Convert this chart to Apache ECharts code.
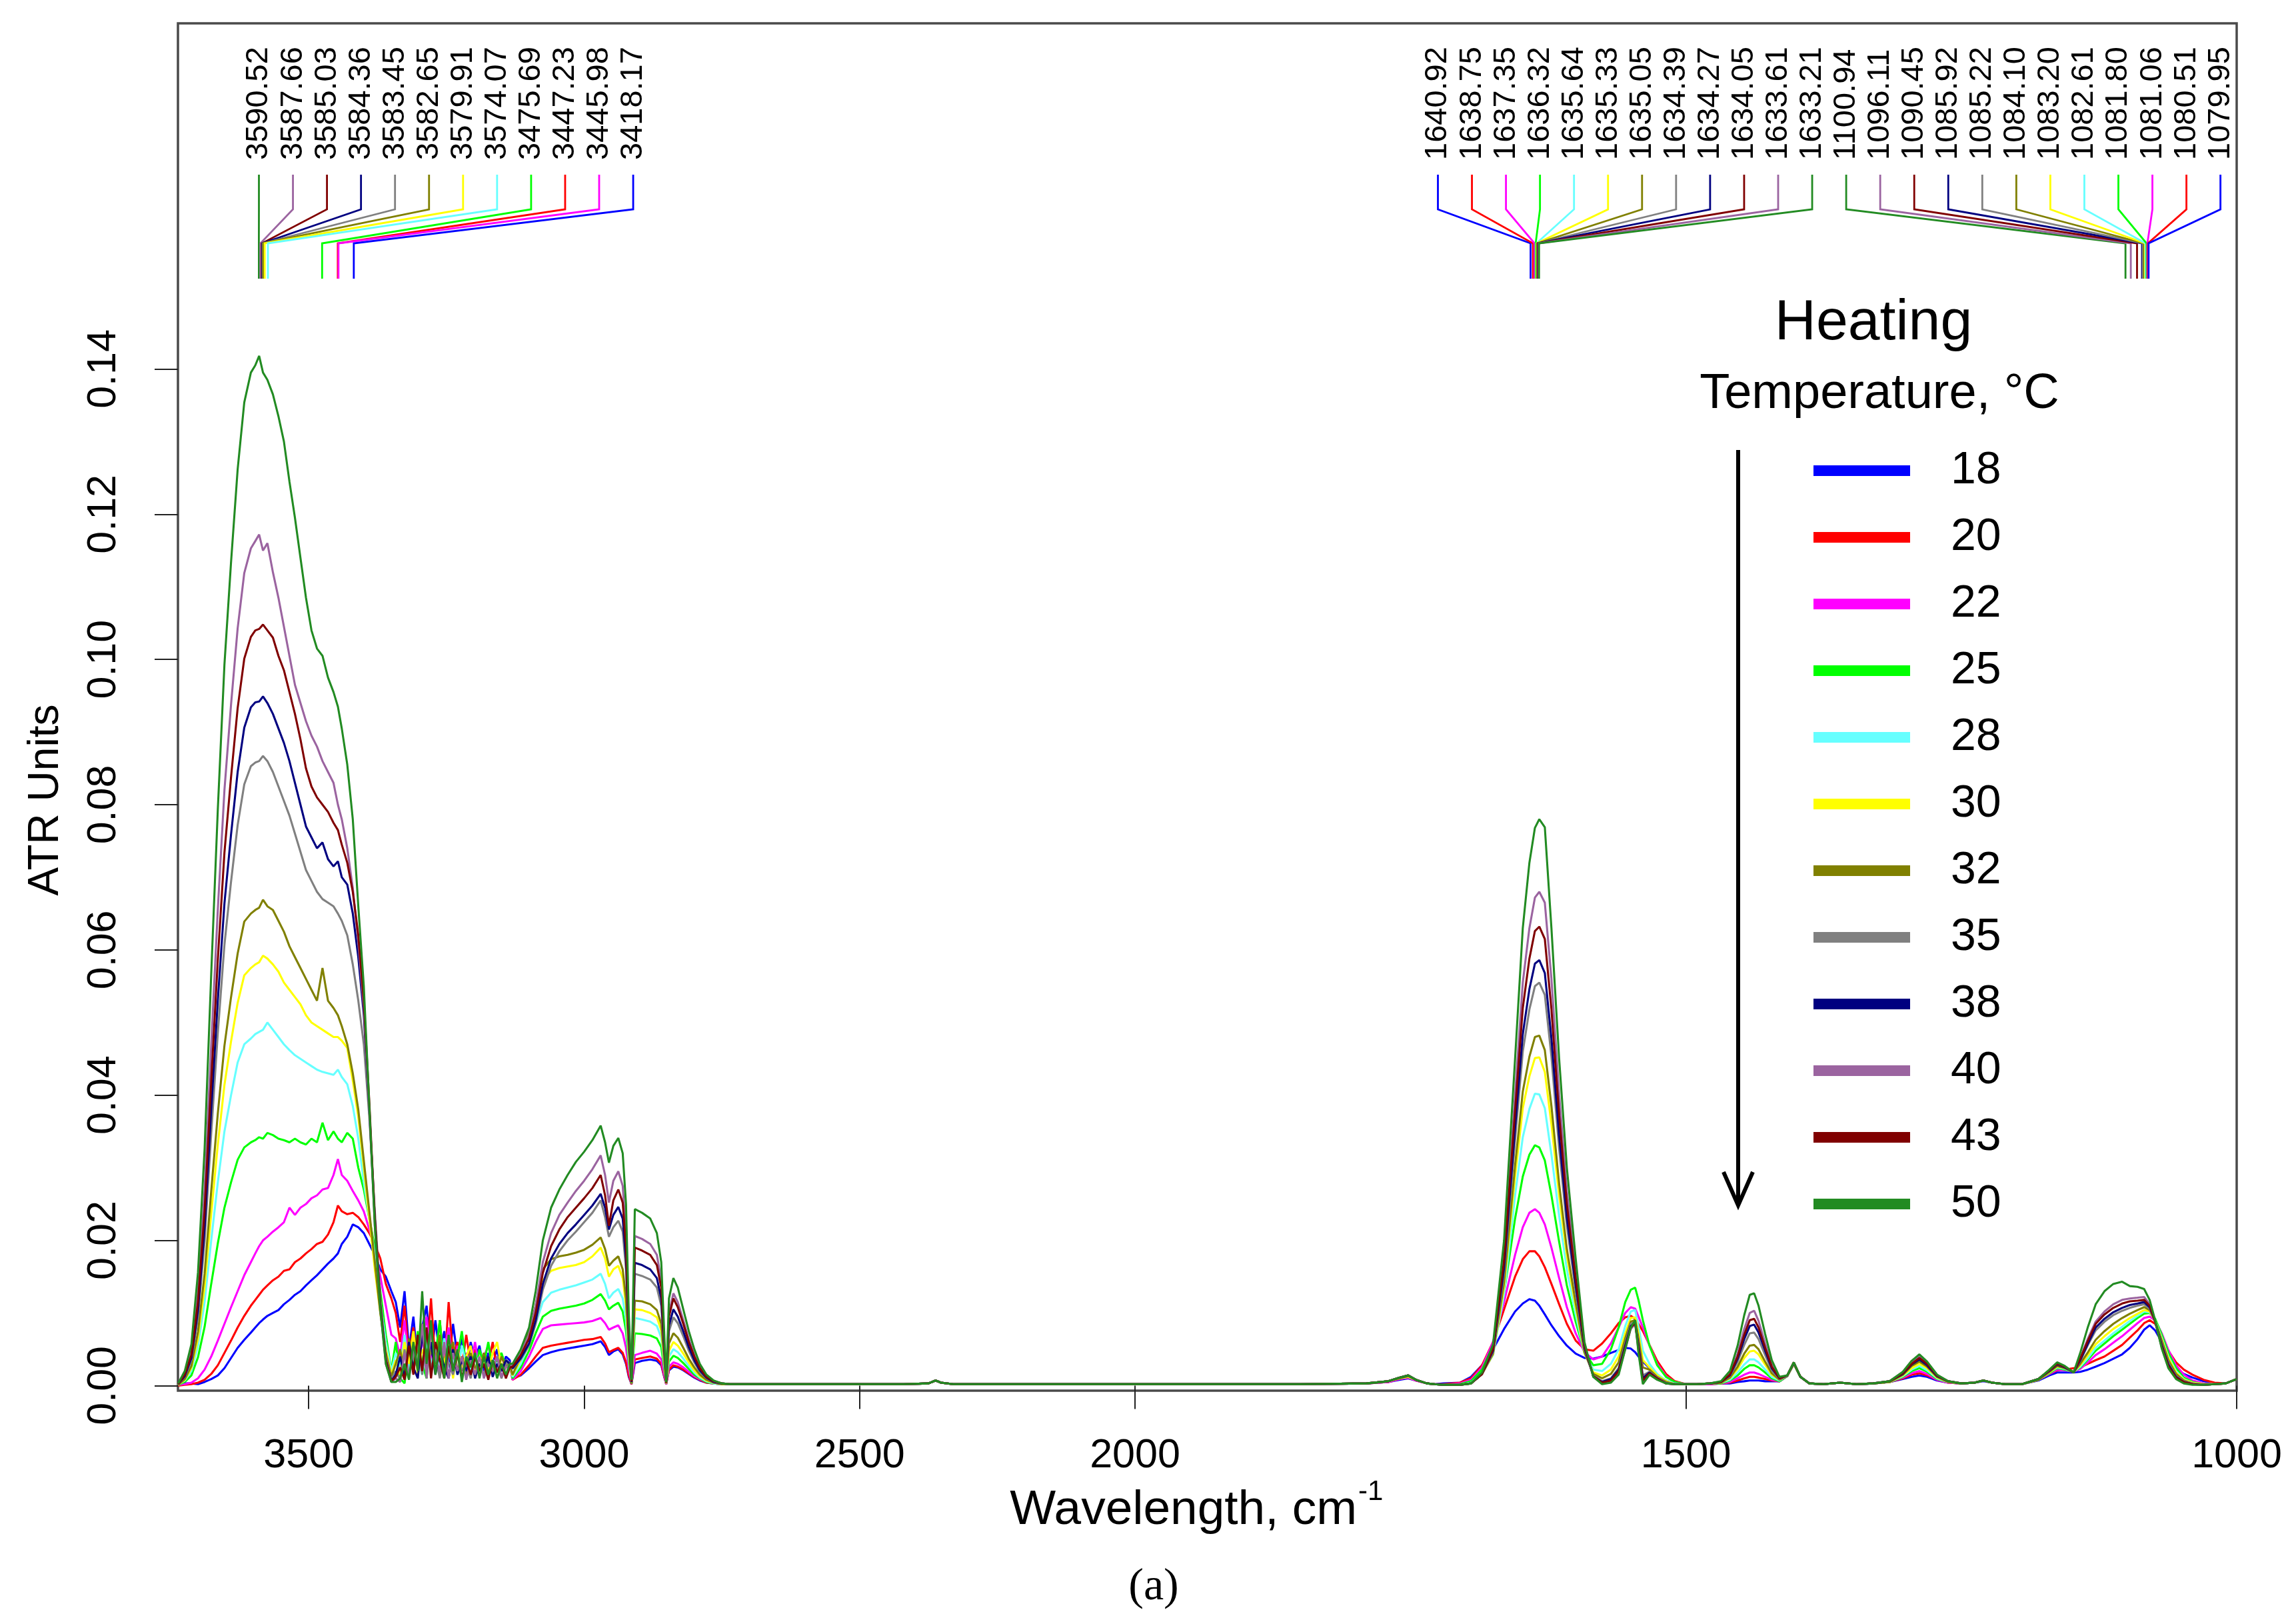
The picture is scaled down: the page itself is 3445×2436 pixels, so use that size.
<!DOCTYPE html>
<html>
<head>
<meta charset="utf-8">
<script src="https://cdn.jsdelivr.net/npm/echarts@6/dist/echarts.min.js"></script>
<style>
html,body{margin:0;padding:0;background:#fff;}
#chart{width:3445px;height:2436px;}
</style>
</head>
<body>
<div id="chart"></div>
<script>
// ---------------- DATA ----------------
const temperatures = [18, 20, 22, 25, 28, 30, 32, 35, 38, 40, 43, 50];
const seriesColors = ['#0000FF', '#FF0000', '#FF00FF', '#00FF00', '#66FFFF', '#FFFF00', '#808000', '#808080', '#000080', '#9B64A0', '#800000', '#228B22'];

const wavenumber = [
  3737, 3725, 3713, 3701, 3689, 3677, 3665, 3653, 3641, 3629, 3617, 3605, 3597, 3590, 3583, 3575, 3565, 3555, 3545, 3535,
  3525, 3515, 3505, 3495, 3485, 3475, 3465, 3455, 3447, 3440, 3430, 3420, 3410, 3400, 3390, 3380, 3370, 3360, 3350,
  3342, 3334, 3326, 3318, 3310, 3302, 3294, 3286, 3278, 3270, 3262, 3254, 3246, 3238, 3230, 3222, 3214, 3206, 3198, 3190,
  3182, 3174, 3166, 3158, 3150, 3142, 3135,
  3130, 3115, 3100, 3088, 3075, 3060, 3045, 3030, 3015, 3000, 2985, 2970, 2962, 2955, 2947, 2938, 2930, 2924, 2919, 2914,
  2908, 2895, 2880, 2868, 2860, 2855, 2851, 2846, 2838, 2830, 2820, 2810, 2800, 2790, 2778, 2765, 2750, 2735, 2720,
  2700, 2600, 2500, 2420, 2375, 2362, 2352, 2330, 2250, 2150, 2050, 1950, 1850, 1790, 1770, 1760, 1752, 1745, 1735, 1728,
  1720, 1705, 1695, 1685, 1675, 1665, 1655, 1648, 1642, 1637, 1633, 1628, 1622, 1615, 1608, 1600, 1592, 1584, 1576, 1568,
  1561, 1555, 1550, 1546, 1543, 1539, 1533, 1526, 1518, 1510, 1500,
  1490, 1478, 1468, 1460, 1453, 1447, 1442, 1438, 1434, 1428, 1422, 1415, 1408, 1402, 1396, 1388, 1375, 1360, 1345, 1330,
  1315, 1303, 1295, 1288, 1281, 1272, 1262, 1250, 1238, 1230, 1222, 1210, 1195, 1180, 1170, 1163, 1156, 1148, 1142, 1135,
  1128, 1120, 1112, 1104, 1097, 1090, 1084, 1079, 1074, 1068, 1062, 1055, 1048, 1040, 1030, 1020, 1010, 1000
];

const atr18 = [
  0.0005,0.0003,0.0003,0.0002,0.0005,0.0009,0.0014,0.0024,0.0038,0.0052,0.0063,0.0073,0.0080,0.0086,0.0091,0.0096,0.0100,0.0104,0.0112,0.0118,
  0.0125,0.0130,0.0138,0.0145,0.0152,0.0160,0.0168,0.0175,0.0182,0.0195,0.0205,0.0222,0.0218,0.0210,0.0195,0.0180,0.0160,0.0150,0.0130,
  0.0115,0.0080,0.0130,0.0050,0.0095,0.0030,0.0080,0.0110,0.0035,0.0090,0.0040,0.0075,0.0025,0.0085,0.0040,0.0065,0.0020,0.0060,0.0035,0.0055,
  0.0020,0.0045,0.0030,0.0050,0.0020,0.0040,0.0035,
  0.0010,0.0014,0.0024,0.0033,0.0042,0.0046,0.0049,0.0051,0.0053,0.0055,0.0057,0.0061,0.0053,0.0042,0.0047,0.0050,0.0043,0.0030,0.0012,0.0002,
  0.0031,0.0034,0.0036,0.0034,0.0028,0.0013,0.0002,0.0021,0.0026,0.0025,0.0021,0.0016,0.0011,0.0007,0.0004,0.0003,0.0002,0.0002,0.0002,
  0.0002,0.0002,0.0002,0.0002,0.0003,0.0007,0.0004,0.0002,0.0002,0.0002,0.0002,0.0002,0.0002,0.0003,0.0005,0.0008,0.0010,0.0007,0.0003,0.0002,
  0.0003,0.0004,0.0012,0.0028,0.0050,0.0078,0.0102,0.0113,0.0119,0.0117,0.0110,0.0098,0.0083,0.0068,0.0055,0.0044,0.0038,0.0037,0.0040,0.0045,
  0.0049,0.0052,0.0051,0.0046,0.0040,0.0033,0.0024,0.0014,0.0007,0.0003,0.0002,
  0.0002,0.0002,0.0003,0.0003,0.0005,0.0006,0.0007,0.0007,0.0007,0.0006,0.0006,0.0006,0.0013,0.0030,0.0012,0.0003,0.0002,0.0004,0.0002,0.0003,
  0.0005,0.0009,0.0012,0.0014,0.0012,0.0007,0.0004,0.0003,0.0004,0.0006,0.0004,0.0002,0.0002,0.0007,0.0014,0.0018,0.0018,0.0018,0.0019,0.0022,
  0.0026,0.0031,0.0037,0.0043,0.0052,0.0064,0.0077,0.0083,0.0076,0.0060,0.0040,0.0024,0.0016,0.0011,0.0006,0.0003,0.0003,0.0009
];

const atr20 = [
  0.0000,0.0001,0.0002,0.0004,0.0008,0.0016,0.0028,0.0045,0.0062,0.0080,0.0096,0.0110,0.0118,0.0125,0.0132,0.0138,0.0145,0.0150,0.0158,0.0160,
  0.0170,0.0175,0.0182,0.0188,0.0195,0.0198,0.0208,0.0225,0.0248,0.0240,0.0236,0.0238,0.0232,0.0222,0.0210,0.0195,0.0175,0.0140,0.0120,
  0.0100,0.0060,0.0110,0.0040,0.0080,0.0025,0.0070,0.0035,0.0120,0.0030,0.0090,0.0020,0.0115,0.0040,0.0060,0.0025,0.0070,0.0030,0.0050,0.0020,
  0.0045,0.0030,0.0060,0.0020,0.0040,0.0025,0.0030,
  0.0008,0.0015,0.0028,0.0040,0.0052,0.0055,0.0057,0.0059,0.0061,0.0063,0.0064,0.0067,0.0058,0.0046,0.0049,0.0052,0.0045,0.0032,0.0014,0.0002,
  0.0036,0.0038,0.0040,0.0037,0.0030,0.0014,0.0002,0.0022,0.0028,0.0026,0.0022,0.0017,0.0012,0.0008,0.0004,0.0003,0.0002,0.0002,0.0002,
  0.0002,0.0002,0.0002,0.0002,0.0003,0.0007,0.0004,0.0002,0.0002,0.0002,0.0002,0.0002,0.0002,0.0003,0.0005,0.0009,0.0011,0.0007,0.0003,0.0002,
  0.0002,0.0004,0.0010,0.0028,0.0060,0.0105,0.0150,0.0174,0.0185,0.0185,0.0178,0.0163,0.0140,0.0112,0.0085,0.0062,0.0050,0.0048,0.0058,0.0072,
  0.0086,0.0094,0.0096,0.0092,0.0085,0.0075,0.0056,0.0034,0.0016,0.0006,0.0002,
  0.0002,0.0002,0.0003,0.0004,0.0007,0.0010,0.0012,0.0012,0.0011,0.0009,0.0007,0.0006,0.0013,0.0030,0.0012,0.0003,0.0002,0.0004,0.0002,0.0003,
  0.0005,0.0010,0.0015,0.0017,0.0014,0.0008,0.0004,0.0003,0.0004,0.0007,0.0004,0.0002,0.0002,0.0008,0.0016,0.0021,0.0022,0.0024,0.0025,0.0030,
  0.0035,0.0040,0.0048,0.0056,0.0066,0.0076,0.0086,0.0090,0.0085,0.0068,0.0048,0.0032,0.0022,0.0015,0.0008,0.0004,0.0003,0.0009
];

const atr22 = [
  0.0001,0.0002,0.0004,0.0010,0.0022,0.0040,0.0062,0.0085,0.0108,0.0130,0.0152,0.0170,0.0182,0.0192,0.0200,0.0205,0.0212,0.0218,0.0225,0.0245,
  0.0235,0.0245,0.0250,0.0258,0.0262,0.0270,0.0272,0.0290,0.0312,0.0290,0.0282,0.0268,0.0255,0.0240,0.0215,0.0190,0.0150,0.0110,0.0070,
  0.0065,0.0040,0.0090,0.0030,0.0070,0.0020,0.0060,0.0095,0.0030,0.0060,0.0015,0.0050,0.0080,0.0025,0.0055,0.0020,0.0045,0.0030,0.0060,0.0020,
  0.0040,0.0055,0.0025,0.0040,0.0020,0.0035,0.0030,
  0.0008,0.0020,0.0040,0.0060,0.0078,0.0083,0.0084,0.0085,0.0086,0.0087,0.0089,0.0093,0.0086,0.0077,0.0080,0.0083,0.0072,0.0052,0.0022,0.0003,
  0.0042,0.0045,0.0048,0.0044,0.0036,0.0017,0.0002,0.0026,0.0032,0.0030,0.0025,0.0019,0.0013,0.0009,0.0005,0.0003,0.0002,0.0002,0.0002,
  0.0002,0.0002,0.0002,0.0002,0.0003,0.0007,0.0004,0.0002,0.0002,0.0002,0.0002,0.0002,0.0002,0.0003,0.0005,0.0009,0.0011,0.0007,0.0003,0.0002,
  0.0001,0.0003,0.0008,0.0025,0.0060,0.0115,0.0180,0.0218,0.0238,0.0243,0.0238,0.0222,0.0190,0.0148,0.0108,0.0072,0.0046,0.0036,0.0040,0.0058,
  0.0080,0.0100,0.0108,0.0106,0.0095,0.0080,0.0055,0.0030,0.0013,0.0005,0.0002,
  0.0002,0.0002,0.0003,0.0005,0.0010,0.0015,0.0018,0.0018,0.0016,0.0012,0.0008,0.0006,0.0013,0.0030,0.0012,0.0003,0.0002,0.0004,0.0002,0.0003,
  0.0005,0.0011,0.0017,0.0020,0.0016,0.0008,0.0004,0.0003,0.0004,0.0007,0.0004,0.0002,0.0002,0.0008,0.0016,0.0022,0.0021,0.0019,0.0023,0.0032,
  0.0042,0.0050,0.0059,0.0068,0.0077,0.0086,0.0093,0.0095,0.0090,0.0072,0.0049,0.0028,0.0015,0.0007,0.0003,0.0002,0.0003,0.0009
];

const atr25 = [
  0.0001,0.0005,0.0014,0.0039,0.0081,0.0140,0.0196,0.0245,0.0280,0.0311,0.0328,0.0335,0.0338,0.0342,0.0340,0.0348,0.0345,0.0340,0.0338,0.0335,
  0.0340,0.0335,0.0332,0.0340,0.0335,0.0362,0.0338,0.0350,0.0340,0.0335,0.0348,0.0340,0.0300,0.0270,0.0230,0.0190,0.0130,0.0070,0.0020,
  0.0060,0.0010,0.0003,0.0050,0.0020,0.0075,0.0030,0.0010,0.0065,0.0040,0.0090,0.0020,0.0055,0.0015,0.0040,0.0075,0.0025,0.0045,0.0015,0.0050,
  0.0030,0.0060,0.0020,0.0035,0.0045,0.0025,0.0032,
  0.0010,0.0025,0.0048,0.0072,0.0095,0.0103,0.0106,0.0108,0.0110,0.0113,0.0118,0.0126,0.0117,0.0105,0.0110,0.0114,0.0102,0.0075,0.0032,0.0003,
  0.0072,0.0071,0.0069,0.0065,0.0053,0.0025,0.0003,0.0033,0.0041,0.0038,0.0031,0.0023,0.0015,0.0010,0.0005,0.0003,0.0002,0.0002,0.0002,
  0.0002,0.0002,0.0002,0.0002,0.0003,0.0007,0.0004,0.0002,0.0002,0.0002,0.0002,0.0002,0.0002,0.0003,0.0006,0.0010,0.0012,0.0008,0.0003,0.0002,
  0.0001,0.0002,0.0006,0.0022,0.0055,0.0128,0.0230,0.0288,0.0318,0.0331,0.0328,0.0310,0.0262,0.0198,0.0138,0.0088,0.0046,0.0028,0.0030,0.0050,
  0.0080,0.0115,0.0132,0.0135,0.0118,0.0090,0.0055,0.0028,0.0012,0.0005,0.0002,
  0.0002,0.0003,0.0003,0.0007,0.0014,0.0023,0.0028,0.0028,0.0025,0.0018,0.0010,0.0006,0.0013,0.0030,0.0012,0.0003,0.0002,0.0004,0.0002,0.0003,
  0.0005,0.0012,0.0020,0.0024,0.0019,0.0009,0.0005,0.0003,0.0004,0.0007,0.0004,0.0002,0.0002,0.0008,0.0017,0.0024,0.0022,0.0019,0.0025,0.0036,
  0.0048,0.0058,0.0068,0.0077,0.0085,0.0093,0.0099,0.0100,0.0092,0.0070,0.0045,0.0024,0.0011,0.0005,0.0002,0.0002,0.0003,0.0009
];

const atr28 = [
  0.0001,0.0007,0.0020,0.0055,0.0115,0.0200,0.0280,0.0350,0.0400,0.0445,0.0470,0.0478,0.0484,0.0487,0.0490,0.0500,0.0490,0.0480,0.0470,0.0462,
  0.0455,0.0450,0.0445,0.0440,0.0435,0.0432,0.0430,0.0428,0.0435,0.0425,0.0415,0.0385,0.0340,0.0280,0.0230,0.0180,0.0115,0.0060,0.0020,
  0.0045,0.0025,0.0070,0.0020,0.0055,0.0040,0.0015,0.0060,0.0030,0.0050,0.0020,0.0065,0.0025,0.0040,0.0015,0.0055,0.0030,0.0020,0.0045,0.0025,
  0.0040,0.0015,0.0035,0.0030,0.0020,0.0035,0.0030,
  0.0012,0.0030,0.0058,0.0085,0.0115,0.0128,0.0132,0.0135,0.0138,0.0142,0.0146,0.0154,0.0140,0.0120,0.0128,0.0133,0.0120,0.0090,0.0038,0.0004,
  0.0093,0.0091,0.0088,0.0082,0.0066,0.0031,0.0003,0.0040,0.0050,0.0046,0.0037,0.0027,0.0018,0.0011,0.0006,0.0003,0.0002,0.0002,0.0002,
  0.0002,0.0002,0.0002,0.0002,0.0003,0.0007,0.0004,0.0002,0.0002,0.0002,0.0002,0.0002,0.0002,0.0003,0.0006,0.0010,0.0012,0.0008,0.0003,0.0002,
  0.0001,0.0001,0.0004,0.0017,0.0042,0.0126,0.0262,0.0342,0.0381,0.0402,0.0401,0.0382,0.0318,0.0234,0.0160,0.0098,0.0044,0.0022,0.0020,0.0030,
  0.0050,0.0082,0.0102,0.0104,0.0082,0.0048,0.0030,0.0016,0.0007,0.0003,0.0002,
  0.0002,0.0003,0.0004,0.0008,0.0018,0.0029,0.0036,0.0036,0.0032,0.0022,0.0012,0.0007,0.0013,0.0030,0.0012,0.0003,0.0002,0.0004,0.0002,0.0003,
  0.0005,0.0013,0.0022,0.0027,0.0021,0.0010,0.0005,0.0003,0.0004,0.0007,0.0004,0.0002,0.0002,0.0008,0.0018,0.0025,0.0023,0.0019,0.0026,0.0038,
  0.0052,0.0062,0.0072,0.0081,0.0089,0.0096,0.0102,0.0101,0.0090,0.0066,0.0040,0.0020,0.0009,0.0004,0.0002,0.0002,0.0003,0.0009
];

const atr30 = [
  0.0001,0.0008,0.0024,0.0065,0.0136,0.0237,0.0332,0.0414,0.0474,0.0527,0.0565,0.0575,0.0580,0.0583,0.0592,0.0588,0.0580,0.0570,0.0555,0.0545,
  0.0535,0.0525,0.0510,0.0500,0.0495,0.0490,0.0485,0.0480,0.0480,0.0475,0.0465,0.0420,0.0370,0.0300,0.0230,0.0160,0.0100,0.0050,0.0015,
  0.0035,0.0015,0.0060,0.0030,0.0075,0.0015,0.0050,0.0035,0.0065,0.0020,0.0045,0.0030,0.0060,0.0010,0.0050,0.0025,0.0040,0.0055,0.0015,0.0040,
  0.0030,0.0020,0.0045,0.0060,0.0025,0.0035,0.0028,
  0.0014,0.0036,0.0068,0.0100,0.0145,0.0158,0.0162,0.0164,0.0166,0.0170,0.0178,0.0190,0.0175,0.0150,0.0160,0.0165,0.0148,0.0110,0.0045,0.0004,
  0.0105,0.0104,0.0100,0.0094,0.0076,0.0036,0.0003,0.0048,0.0060,0.0055,0.0044,0.0032,0.0021,0.0013,0.0007,0.0004,0.0002,0.0002,0.0002,
  0.0002,0.0002,0.0002,0.0002,0.0003,0.0007,0.0004,0.0002,0.0002,0.0002,0.0002,0.0002,0.0002,0.0003,0.0006,0.0010,0.0012,0.0008,0.0003,0.0002,
  0.0001,0.0001,0.0003,0.0016,0.0043,0.0136,0.0288,0.0382,0.0426,0.0451,0.0452,0.0432,0.0360,0.0262,0.0178,0.0108,0.0045,0.0018,0.0014,0.0022,
  0.0040,0.0072,0.0093,0.0094,0.0072,0.0035,0.0025,0.0014,0.0006,0.0002,0.0002,
  0.0002,0.0003,0.0004,0.0010,0.0023,0.0038,0.0047,0.0048,0.0043,0.0029,0.0015,0.0008,0.0013,0.0030,0.0012,0.0003,0.0002,0.0004,0.0002,0.0003,
  0.0005,0.0014,0.0024,0.0030,0.0024,0.0011,0.0005,0.0003,0.0004,0.0007,0.0004,0.0002,0.0002,0.0008,0.0018,0.0026,0.0024,0.0019,0.0028,0.0042,
  0.0057,0.0068,0.0078,0.0086,0.0093,0.0099,0.0104,0.0102,0.0089,0.0064,0.0038,0.0018,0.0008,0.0004,0.0002,0.0002,0.0003,0.0009
];

const atr32 = [
  0.0001,0.0009,0.0027,0.0074,0.0154,0.0268,0.0375,0.0468,0.0535,0.0595,0.0639,0.0650,0.0655,0.0658,0.0669,0.0660,0.0655,0.0640,0.0625,0.0605,
  0.0590,0.0575,0.0560,0.0545,0.0530,0.0575,0.0530,0.0520,0.0510,0.0495,0.0470,0.0430,0.0380,0.0310,0.0240,0.0170,0.0100,0.0045,0.0012,
  0.0030,0.0050,0.0015,0.0065,0.0020,0.0055,0.0085,0.0020,0.0050,0.0030,0.0070,0.0015,0.0045,0.0060,0.0020,0.0040,0.0015,0.0045,0.0025,0.0020,
  0.0045,0.0015,0.0035,0.0020,0.0040,0.0025,0.0030,
  0.0015,0.0040,0.0075,0.0110,0.0160,0.0174,0.0178,0.0180,0.0183,0.0187,0.0194,0.0204,0.0188,0.0165,0.0172,0.0178,0.0160,0.0120,0.0050,0.0004,
  0.0117,0.0116,0.0112,0.0104,0.0085,0.0040,0.0003,0.0058,0.0072,0.0066,0.0052,0.0037,0.0025,0.0015,0.0008,0.0004,0.0002,0.0002,0.0002,
  0.0002,0.0002,0.0002,0.0002,0.0003,0.0007,0.0004,0.0002,0.0002,0.0002,0.0002,0.0002,0.0002,0.0003,0.0006,0.0010,0.0013,0.0008,0.0003,0.0002,
  0.0001,0.0001,0.0003,0.0016,0.0044,0.0142,0.0303,0.0405,0.0453,0.0480,0.0482,0.0462,0.0385,0.0278,0.0188,0.0114,0.0046,0.0016,0.0010,0.0016,
  0.0032,0.0065,0.0088,0.0090,0.0065,0.0025,0.0022,0.0012,0.0005,0.0002,0.0002,
  0.0002,0.0003,0.0004,0.0011,0.0026,0.0044,0.0055,0.0056,0.0050,0.0033,0.0017,0.0008,0.0013,0.0030,0.0012,0.0003,0.0002,0.0004,0.0002,0.0003,
  0.0005,0.0015,0.0027,0.0033,0.0026,0.0012,0.0005,0.0003,0.0004,0.0007,0.0004,0.0002,0.0002,0.0008,0.0019,0.0027,0.0024,0.0019,0.0030,0.0046,
  0.0063,0.0075,0.0085,0.0093,0.0099,0.0104,0.0108,0.0104,0.0089,0.0062,0.0035,0.0016,0.0007,0.0003,0.0001,0.0002,0.0003,0.0009
];

const atr35 = [
  0.0002,0.0012,0.0035,0.0095,0.0199,0.0347,0.0486,0.0607,0.0694,0.0772,0.0828,0.0853,0.0858,0.0860,0.0867,0.0860,0.0845,0.0825,0.0805,0.0785,
  0.0760,0.0735,0.0710,0.0695,0.0680,0.0670,0.0665,0.0660,0.0650,0.0640,0.0620,0.0580,0.0530,0.0470,0.0370,0.0240,0.0120,0.0040,0.0008,
  0.0020,0.0008,0.0050,0.0015,0.0040,0.0060,0.0015,0.0075,0.0025,0.0040,0.0010,0.0055,0.0030,0.0015,0.0045,0.0020,0.0030,0.0010,0.0040,0.0025,
  0.0015,0.0035,0.0020,0.0028,0.0010,0.0030,0.0032,
  0.0023,0.0036,0.0055,0.0085,0.0132,0.0165,0.0185,0.0200,0.0212,0.0225,0.0238,0.0255,0.0232,0.0205,0.0218,0.0227,0.0212,0.0160,0.0065,0.0005,
  0.0154,0.0151,0.0146,0.0135,0.0110,0.0051,0.0004,0.0075,0.0094,0.0086,0.0068,0.0048,0.0032,0.0019,0.0010,0.0005,0.0003,0.0002,0.0002,
  0.0002,0.0002,0.0002,0.0002,0.0003,0.0007,0.0004,0.0002,0.0002,0.0002,0.0002,0.0002,0.0002,0.0003,0.0006,0.0011,0.0014,0.0008,0.0003,0.0002,
  0.0001,0.0001,0.0003,0.0016,0.0046,0.0155,0.0338,0.0460,0.0518,0.0550,0.0555,0.0538,0.0453,0.0326,0.0220,0.0131,0.0050,0.0014,0.0006,0.0010,
  0.0024,0.0058,0.0085,0.0088,0.0058,0.0014,0.0019,0.0011,0.0004,0.0002,0.0002,
  0.0002,0.0003,0.0005,0.0013,0.0033,0.0056,0.0072,0.0073,0.0064,0.0042,0.0021,0.0009,0.0013,0.0031,0.0012,0.0003,0.0002,0.0004,0.0002,0.0003,
  0.0006,0.0019,0.0034,0.0042,0.0032,0.0015,0.0006,0.0003,0.0004,0.0007,0.0004,0.0002,0.0002,0.0009,0.0021,0.0030,0.0026,0.0018,0.0034,0.0056,
  0.0076,0.0088,0.0097,0.0103,0.0107,0.0110,0.0112,0.0106,0.0088,0.0058,0.0031,0.0013,0.0006,0.0003,0.0001,0.0002,0.0003,0.0009
];

const atr38 = [
  0.0002,0.0013,0.0038,0.0104,0.0218,0.0380,0.0531,0.0664,0.0759,0.0845,0.0906,0.0934,0.0941,0.0942,0.0949,0.0940,0.0925,0.0905,0.0885,0.0860,
  0.0830,0.0800,0.0770,0.0755,0.0740,0.0748,0.0725,0.0715,0.0722,0.0700,0.0690,0.0650,0.0590,0.0510,0.0380,0.0230,0.0110,0.0035,0.0006,
  0.0015,0.0040,0.0010,0.0060,0.0025,0.0010,0.0070,0.0030,0.0060,0.0015,0.0050,0.0025,0.0010,0.0050,0.0015,0.0035,0.0020,0.0040,0.0010,0.0030,
  0.0025,0.0040,0.0012,0.0030,0.0020,0.0035,0.0030,
  0.0024,0.0038,0.0058,0.0090,0.0140,0.0175,0.0195,0.0210,0.0222,0.0235,0.0248,0.0264,0.0245,0.0215,0.0235,0.0246,0.0230,0.0175,0.0070,0.0005,
  0.0169,0.0166,0.0160,0.0148,0.0120,0.0056,0.0004,0.0083,0.0105,0.0095,0.0075,0.0053,0.0035,0.0021,0.0011,0.0005,0.0003,0.0002,0.0002,
  0.0002,0.0002,0.0002,0.0002,0.0003,0.0007,0.0004,0.0002,0.0002,0.0002,0.0002,0.0002,0.0002,0.0003,0.0006,0.0011,0.0014,0.0008,0.0003,0.0002,
  0.0001,0.0001,0.0003,0.0016,0.0048,0.0162,0.0355,0.0484,0.0546,0.0581,0.0586,0.0568,0.0478,0.0344,0.0232,0.0138,0.0052,0.0013,0.0005,0.0009,
  0.0022,0.0055,0.0082,0.0086,0.0055,0.0010,0.0018,0.0010,0.0003,0.0002,0.0002,
  0.0002,0.0003,0.0005,0.0014,0.0037,0.0064,0.0082,0.0084,0.0073,0.0048,0.0024,0.0010,0.0014,0.0031,0.0012,0.0003,0.0002,0.0004,0.0002,0.0003,
  0.0006,0.0016,0.0029,0.0036,0.0028,0.0013,0.0006,0.0003,0.0004,0.0007,0.0004,0.0002,0.0002,0.0009,0.0020,0.0029,0.0025,0.0018,0.0035,0.0058,
  0.0080,0.0092,0.0101,0.0107,0.0111,0.0113,0.0115,0.0108,0.0088,0.0056,0.0029,0.0012,0.0005,0.0002,0.0001,0.0002,0.0003,0.0009
];

const atr40 = [
  0.0002,0.0016,0.0047,0.0129,0.0270,0.0469,0.0656,0.0820,0.0938,0.1043,0.1119,0.1153,0.1163,0.1172,0.1150,0.1160,0.1120,0.1085,0.1045,0.1005,
  0.0965,0.0940,0.0915,0.0895,0.0880,0.0860,0.0845,0.0830,0.0800,0.0780,0.0740,0.0685,0.0610,0.0520,0.0380,0.0220,0.0105,0.0030,0.0005,
  0.0010,0.0005,0.0045,0.0010,0.0050,0.0030,0.0085,0.0010,0.0075,0.0040,0.0020,0.0060,0.0010,0.0045,0.0020,0.0040,0.0008,0.0035,0.0015,0.0040,
  0.0010,0.0030,0.0020,0.0040,0.0012,0.0025,0.0028,
  0.0028,0.0045,0.0070,0.0110,0.0170,0.0210,0.0235,0.0252,0.0268,0.0282,0.0298,0.0317,0.0290,0.0252,0.0282,0.0295,0.0275,0.0210,0.0085,0.0006,
  0.0206,0.0202,0.0195,0.0180,0.0145,0.0068,0.0004,0.0100,0.0127,0.0115,0.0090,0.0064,0.0042,0.0026,0.0013,0.0006,0.0003,0.0002,0.0002,
  0.0002,0.0002,0.0002,0.0002,0.0003,0.0007,0.0004,0.0002,0.0002,0.0002,0.0002,0.0002,0.0002,0.0003,0.0006,0.0011,0.0014,0.0008,0.0003,0.0002,
  0.0001,0.0001,0.0003,0.0017,0.0052,0.0180,0.0400,0.0555,0.0630,0.0672,0.0680,0.0665,0.0560,0.0400,0.0268,0.0158,0.0056,0.0012,0.0003,0.0006,
  0.0018,0.0050,0.0078,0.0085,0.0048,0.0005,0.0016,0.0009,0.0003,0.0002,0.0002,
  0.0002,0.0003,0.0005,0.0016,0.0044,0.0078,0.0100,0.0103,0.0089,0.0058,0.0029,0.0011,0.0014,0.0032,0.0012,0.0003,0.0002,0.0004,0.0002,0.0003,
  0.0006,0.0018,0.0032,0.0040,0.0031,0.0014,0.0006,0.0003,0.0004,0.0007,0.0004,0.0002,0.0002,0.0009,0.0021,0.0030,0.0026,0.0018,0.0038,0.0065,
  0.0088,0.0102,0.0112,0.0118,0.0120,0.0121,0.0122,0.0112,0.0088,0.0052,0.0025,0.0010,0.0004,0.0002,0.0001,0.0002,0.0003,0.0009
];

const atr43 = [
  0.0002,0.0015,0.0042,0.0115,0.0241,0.0419,0.0587,0.0734,0.0838,0.0933,0.1001,0.1031,0.1040,0.1042,0.1048,0.1040,0.1030,0.1005,0.0985,0.0955,
  0.0925,0.0890,0.0850,0.0825,0.0810,0.0800,0.0790,0.0775,0.0765,0.0745,0.0720,0.0680,0.0620,0.0530,0.0390,0.0230,0.0110,0.0035,0.0006,
  0.0012,0.0025,0.0008,0.0055,0.0015,0.0070,0.0020,0.0080,0.0010,0.0060,0.0035,0.0010,0.0055,0.0020,0.0045,0.0010,0.0035,0.0015,0.0040,0.0020,
  0.0030,0.0008,0.0035,0.0018,0.0030,0.0010,0.0025,
  0.0026,0.0042,0.0065,0.0100,0.0155,0.0192,0.0215,0.0232,0.0245,0.0258,0.0272,0.0290,0.0262,0.0220,0.0255,0.0270,0.0252,0.0192,0.0078,0.0006,
  0.0190,0.0186,0.0180,0.0166,0.0135,0.0063,0.0004,0.0095,0.0120,0.0108,0.0085,0.0060,0.0040,0.0024,0.0012,0.0006,0.0003,0.0002,0.0002,
  0.0002,0.0002,0.0002,0.0002,0.0003,0.0007,0.0004,0.0002,0.0002,0.0002,0.0002,0.0002,0.0002,0.0003,0.0006,0.0011,0.0014,0.0008,0.0003,0.0002,
  0.0001,0.0001,0.0003,0.0016,0.0050,0.0172,0.0378,0.0520,0.0588,0.0626,0.0632,0.0615,0.0518,0.0372,0.0250,0.0148,0.0055,0.0013,0.0004,0.0007,
  0.0020,0.0052,0.0080,0.0086,0.0052,0.0007,0.0017,0.0010,0.0003,0.0002,0.0002,
  0.0002,0.0003,0.0005,0.0015,0.0040,0.0070,0.0090,0.0092,0.0080,0.0052,0.0026,0.0010,0.0014,0.0032,0.0012,0.0003,0.0002,0.0004,0.0002,0.0003,
  0.0006,0.0017,0.0030,0.0038,0.0030,0.0014,0.0006,0.0003,0.0004,0.0007,0.0004,0.0002,0.0002,0.0009,0.0021,0.0030,0.0026,0.0018,0.0037,0.0062,
  0.0085,0.0098,0.0107,0.0113,0.0116,0.0117,0.0118,0.0110,0.0088,0.0054,0.0027,0.0011,0.0005,0.0002,0.0001,0.0002,0.0003,0.0009
];

const atr50 = [
  0.0003,0.0020,0.0057,0.0156,0.0326,0.0567,0.0794,0.0993,0.1134,0.1262,0.1354,0.1395,0.1405,0.1418,0.1395,0.1385,0.1365,0.1335,0.1300,0.1245,
  0.1195,0.1140,0.1085,0.1040,0.1015,0.1005,0.0975,0.0955,0.0935,0.0905,0.0855,0.0780,0.0660,0.0550,0.0385,0.0220,0.0105,0.0030,0.0005,
  0.0005,0.0010,0.0030,0.0008,0.0060,0.0020,0.0130,0.0030,0.0090,0.0015,0.0060,0.0010,0.0070,0.0020,0.0050,0.0005,0.0040,0.0025,0.0045,0.0010,
  0.0040,0.0015,0.0035,0.0010,0.0030,0.0015,0.0030,
  0.0030,0.0050,0.0080,0.0130,0.0200,0.0245,0.0270,0.0290,0.0308,0.0322,0.0338,0.0358,0.0335,0.0307,0.0330,0.0341,0.0320,0.0250,0.0100,0.0008,
  0.0243,0.0238,0.0230,0.0210,0.0170,0.0080,0.0005,0.0120,0.0148,0.0135,0.0105,0.0075,0.0050,0.0030,0.0015,0.0007,0.0003,0.0002,0.0002,
  0.0002,0.0002,0.0002,0.0002,0.0003,0.0007,0.0004,0.0002,0.0002,0.0002,0.0002,0.0002,0.0002,0.0003,0.0006,0.0011,0.0014,0.0008,0.0003,0.0002,
  0.0001,0.0001,0.0003,0.0018,0.0057,0.0200,0.0450,0.0630,0.0720,0.0768,0.0780,0.0769,0.0630,0.0450,0.0300,0.0175,0.0060,0.0012,0.0002,0.0004,
  0.0015,0.0050,0.0080,0.0090,0.0045,0.0002,0.0015,0.0008,0.0003,0.0002,0.0002,
  0.0002,0.0003,0.0006,0.0020,0.0055,0.0097,0.0125,0.0127,0.0110,0.0071,0.0035,0.0012,0.0014,0.0032,0.0012,0.0003,0.0002,0.0004,0.0002,0.0003,
  0.0006,0.0019,0.0034,0.0043,0.0033,0.0015,0.0006,0.0003,0.0004,0.0007,0.0004,0.0002,0.0002,0.0009,0.0022,0.0032,0.0027,0.0018,0.0045,0.0081,
  0.0112,0.0130,0.0140,0.0143,0.0137,0.0136,0.0133,0.0118,0.0090,0.0051,0.0024,0.0009,0.0003,0.0001,0.0001,0.0002,0.0003,0.0009
];

const seriesValues = [atr18, atr20, atr22, atr25, atr28, atr30, atr32, atr35, atr38, atr40, atr43, atr50];

// peak-position labels (top annotations)
const ohPeaks = [3590.52, 3587.66, 3585.03, 3584.36, 3583.45, 3582.65, 3579.91, 3574.07, 3475.69, 3447.23, 3445.98, 3418.17];
const ohPeakTemps = [50, 40, 43, 38, 35, 32, 30, 28, 25, 20, 22, 18];
const amidePeaks = [1640.92, 1638.75, 1637.35, 1636.32, 1635.64, 1635.33, 1635.05, 1634.39, 1634.27, 1634.05, 1633.61, 1633.21];
const amidePeakTemps = [18, 20, 22, 25, 28, 30, 32, 35, 38, 43, 40, 50];
const fpPeaks = [1100.94, 1096.11, 1090.45, 1085.92, 1085.22, 1084.10, 1083.20, 1082.61, 1081.80, 1081.06, 1080.51, 1079.95];
const fpPeakTemps = [50, 40, 43, 38, 35, 32, 30, 28, 25, 22, 20, 18];

const xTickLabels = [3500, 3000, 2500, 2000, 1500, 1000];
const yTickLabels = [0, 0.02, 0.04, 0.06, 0.08, 0.10, 0.12, 0.14];

// ---------------- AXIS MAPPING (compressed x-axis above 2000 cm-1) ----------------
const toAxis = w => (w <= 2000 ? w : 2000 + (w - 2000) / 2);
const fromAxis = v => (v <= 2000 ? v : 2000 + (v - 2000) * 2);

// ---------------- LAYOUT CONSTANTS ----------------
const FONT = "'Liberation Sans', Arial, Helvetica, sans-serif";
const LABEL_LEFT_X0 = 388.5, LABEL_RIGHT_X0 = 2157.5, LABEL_STEP = 51.05;
const LABEL_BASE_Y = 240, LEAD_TOP = 262, LEAD_KNEE = 314, LEAD_JOIN = 365, LEAD_BOTTOM = 418;

const problems = [];
seriesValues.forEach((arr, i) => { if (arr.length !== wavenumber.length) problems.push(temperatures[i] + ':' + arr.length + '/' + wavenumber.length); });

const annotationData = [];
ohPeaks.forEach((p, i) => annotationData.push([toAxis(p), 0, 0, i, temperatures.indexOf(ohPeakTemps[i]), p]));
amidePeaks.forEach((p, i) => annotationData.push([toAxis(p), 0, 1, i, temperatures.indexOf(amidePeakTemps[i]), p]));
fpPeaks.forEach((p, i) => annotationData.push([toAxis(p), 0, 1, 12 + i, temperatures.indexOf(fpPeakTemps[i]), p]));

const lineSeries = temperatures.map((t, k) => ({
  type: 'line',
  name: String(t),
  color: seriesColors[k],
  data: wavenumber.map((w, i) => [toAxis(w), seriesValues[k][i]]),
  showSymbol: false,
  symbol: 'none',
  silent: true,
  z: 2,
  lineStyle: { width: 3.1, color: seriesColors[k] },
  itemStyle: { color: seriesColors[k] }
}));

const annotationSeries = {
  type: 'custom',
  coordinateSystem: 'cartesian2d',
  clip: false,
  silent: true,
  z: 5,
  encode: { x: 0, y: 1 },
  data: annotationData,
  renderItem: function (params, api) {
    const px = api.coord([api.value(0), 0])[0];
    const group = api.value(2), slot = api.value(3), ci = api.value(4);
    const lx = (group === 0 ? LABEL_LEFT_X0 : LABEL_RIGHT_X0) + slot * LABEL_STEP;
    const col = seriesColors[ci];
    return {
      type: 'group',
      children: [
        { type: 'text', x: lx, y: LABEL_BASE_Y, rotation: Math.PI / 2,
          style: { text: Number(api.value(5)).toFixed(2), fontSize: 47, fontFamily: FONT, fill: '#000', align: 'left', verticalAlign: 'middle' } },
        { type: 'polyline', shape: { points: [[lx, LEAD_TOP], [lx, LEAD_KNEE], [px, LEAD_JOIN], [px, LEAD_BOTTOM]] },
          style: { stroke: col, lineWidth: 2.8, fill: null } }
      ]
    };
  }
};

const chart = echarts.init(document.getElementById('chart'), null, { renderer: 'canvas' });
chart.setOption({
  animation: false,
  backgroundColor: '#ffffff',
  grid: { left: 267, right: 89, top: 35, bottom: 350, show: true, borderColor: '#4a4a4a', borderWidth: 3.5, backgroundColor: 'transparent' },
  xAxis: {
    type: 'value', min: 1000, max: toAxis(3737.4), inverse: true,
    splitLine: { show: false },
    axisLine: { show: false },
    axisTick: { show: true, inside: false, length: 35, customValues: xTickLabels.map(toAxis), lineStyle: { color: '#222', width: 2 } },
    axisLabel: { show: true, customValues: xTickLabels.map(toAxis), formatter: v => String(Math.round(fromAxis(v))),
      fontSize: 61, fontFamily: FONT, color: '#000', margin: 68 }
  },
  yAxis: {
    type: 'value', min: -0.0007, max: 0.1876,
    splitLine: { show: false },
    axisLine: { show: false },
    axisTick: { show: true, inside: false, length: 35, customValues: yTickLabels, lineStyle: { color: '#222', width: 2 } },
    axisLabel: { show: true, customValues: yTickLabels, formatter: v => v.toFixed(2), rotate: 90,
      fontSize: 61, fontFamily: FONT, color: '#000', margin: 80 }
  },
  legend: {
    orient: 'vertical', left: 2716, top: 667,
    itemWidth: 145, itemHeight: 16, itemGap: 32, icon: 'rect',
    selectedMode: false,
    data: temperatures.map(String),
    textStyle: { fontSize: 68, fontFamily: FONT, color: '#000', lineHeight: 68, padding: [0, 0, 0, 56] }
  },
  graphic: [
    { type: 'text', x: 2811, y: 485, style: { text: 'Heating', fontSize: 86, fontFamily: FONT, fill: '#000', align: 'center', verticalAlign: 'middle' } },
    { type: 'text', x: 2820, y: 592, style: { text: 'Temperature, °C', fontSize: 74, fontFamily: FONT, fill: '#000', align: 'center', verticalAlign: 'middle' } },
    { type: 'line', shape: { x1: 2608, y1: 675, x2: 2608, y2: 1806 }, style: { stroke: '#000', lineWidth: 6 } },
    { type: 'polyline', shape: { points: [[2586, 1758], [2608, 1808], [2630, 1758]] }, style: { stroke: '#000', lineWidth: 6, fill: null } },
    { type: 'text', x: 69, y: 1200, rotation: Math.PI / 2, style: { text: 'ATR Units', fontSize: 64, fontFamily: FONT, fill: '#000', align: 'center', verticalAlign: 'middle' } },
    { type: 'text', x: 2036, y: 2266, style: { text: 'Wavelength, cm', fontSize: 73, fontFamily: FONT, fill: '#000', align: 'right', verticalAlign: 'middle' } },
    { type: 'text', x: 2038, y: 2238, style: { text: '-1', fontSize: 42, fontFamily: FONT, fill: '#000', align: 'left', verticalAlign: 'middle' } },
    { type: 'text', x: 1731, y: 2381, style: { text: '(a)', fontSize: 68, fontFamily: "'Liberation Serif', 'Times New Roman', serif", fill: '#000', align: 'center', verticalAlign: 'middle' } },
    { type: 'text', x: 1700, y: 1200, style: { text: problems.join('  '), fontSize: 60, fill: '#f00' } }
  ],
  series: lineSeries.concat([annotationSeries])
});
</script>
</body>
</html>
